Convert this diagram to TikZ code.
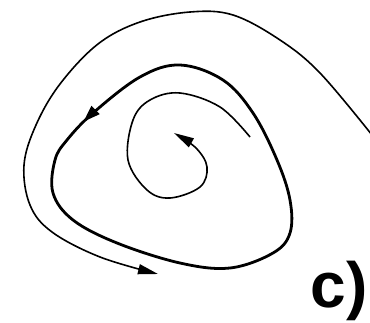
\documentclass[tikz,border=0pt]{standalone}
\usepackage{fontspec}
\setsansfont{Liberation Sans}
\usepackage{tikz}
\usetikzlibrary{arrows.meta,decorations.markings}
\tikzset{
  orbit/.style={line width=1.6pt, black},
  limitcycle/.style={line width=2.8pt, black},
  orbittip/.style={-{Triangle[length=20pt,width=10pt]}},
  cyclemark/.style={
    postaction={decorate},
    decoration={markings,
      mark=at position 0.105 with {\arrow{Triangle[length=17pt,width=11pt]}}}
  },
  panellabel/.style={font=\sffamily\bfseries\fontsize{64}{64}\selectfont, inner sep=0pt}
}

\begin{document}
\begin{tikzpicture}[x=1pt, y=-1pt]
\useasboundingbox (0,0) rectangle (370,322);

% outer trajectory coming in from the right
\draw[orbit, orbittip] plot[smooth, tension=0.6] coordinates {
  (372,135) (320,73) (280,40) (233,15) (190,12) (140,22) (98,44)
  (60,84) (36,125) (24,165) (30,205) (52,232) (100,257) (158,274)};

% limit cycle
\draw[limitcycle, cyclemark] plot[smooth cycle, tension=0.6] coordinates {
  (180,65) (140,77) (93,113) (67,140) (55,160) (53,193) (73,220)
  (117,243) (180,263) (230,268) (273,253) (290,233) (290,200)
  (277,160) (253,113) (223,80)};

% inner trajectory spiralling to the focus
\draw[orbit, orbittip] plot[smooth, tension=0.6] coordinates {
  (250,137) (220,107) (180,93) (150,100) (133,120) (128,160)
  (147,190) (170,198) (200,187) (207,167) (196,148) (174,133)};

\node[panellabel, anchor=base east] (lbl) at (368,307) {c)};
\end{tikzpicture}
\end{document}
